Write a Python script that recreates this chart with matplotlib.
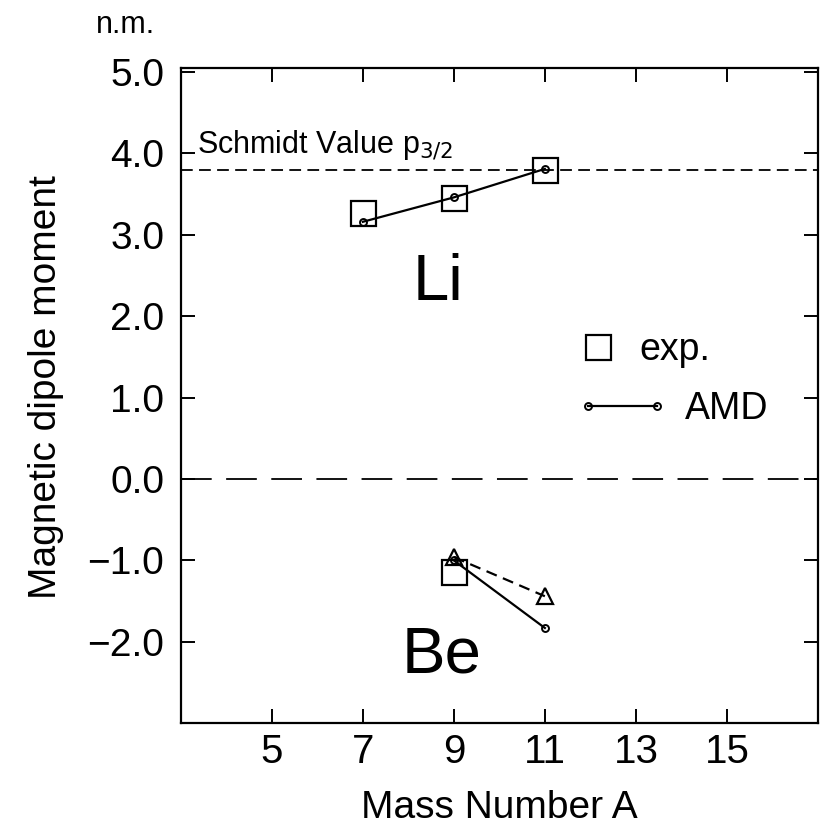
import matplotlib
matplotlib.use('Agg')
import matplotlib.pyplot as plt
from matplotlib.lines import Line2D
from matplotlib.legend_handler import HandlerLine2D

plt.rcParams['font.family'] = ['Liberation Sans', 'DejaVu Sans']

# データ
li_A = [7, 9, 11]
li_exp = [3.27, 3.45, 3.80]
li_amd = [3.16, 3.46, 3.81]

be_exp_A = [9]
be_exp = [-1.14]
be_A = [9, 11]
be_amd = [-1.0, -1.83]
be_amd2 = [-0.96, -1.44]

schmidt = 3.80

xticks = [5, 7, 9, 11, 13, 15]
yticks = [-2.0, -1.0, 0.0, 1.0, 2.0, 3.0, 4.0, 5.0]

fig = plt.figure(figsize=(8.22, 8.39), dpi=100)
ax = fig.add_axes([0.220, 0.138, 0.775, 0.781])
ax.set_xlim(3, 17)
ax.set_ylim(-3.0, 5.05)

# 基準線
ax.axhline(schmidt, color='k', ls=(0, (6.5, 3.5)), lw=1.3)
ax.axhline(0.0, color='k', ls=(0, (17, 8)), lw=1.3)

# Li
ax.plot(li_A, li_exp, 's', ms=18, mfc='none', mec='k', mew=1.6)
ax.plot(li_A, li_amd, 'o-', color='k', ms=5, mfc='none', mew=1.4, lw=1.6)

# Be
ax.plot(be_exp_A, be_exp, 's', ms=18, mfc='none', mec='k', mew=1.6)
ax.plot(be_A, be_amd, 'o-', color='k', ms=5, mfc='none', mew=1.4, lw=1.6)
ax.plot(be_A, be_amd2, '^--', color='k', ms=11, mfc='none', mew=1.6, lw=1.6,
        dashes=(5, 3))

# テキスト
ax.text(3.35, 4.0, r'Schmidt Value p$_{3/2}$', fontsize=22, va='baseline')
ax.text(8.1, 2.2, 'Li', fontsize=47, ha='left', va='baseline')
ax.text(7.85, -2.38, 'Be', fontsize=47, ha='left', va='baseline')

# 凡例 (exp. と AMD は別々に配置)
h_exp = Line2D([], [], marker='s', ls='none', ms=18, mfc='none', mec='k', mew=1.6)
h_amd = Line2D([], [], marker='o', ls='-', color='k', ms=5, mfc='none', mew=1.4, lw=1.6)
leg1 = ax.legend([h_exp], ['exp.'], frameon=False, fontsize=27,
                 handlelength=1.0, numpoints=1, handletextpad=0.6,
                 borderpad=0, borderaxespad=0,
                 loc='center left', bbox_to_anchor=(0.625, 0.57))
ax.add_artist(leg1)
ax.legend([h_amd], ['AMD'], frameon=False, fontsize=27,
          handlelength=1.84, handletextpad=0.75,
          borderpad=0, borderaxespad=0,
          handler_map={h_amd: HandlerLine2D(numpoints=2, marker_pad=0)},
          loc='center left', bbox_to_anchor=(0.639, 0.48))

# 軸の設定
ax.set_xticks(xticks)
ax.set_yticks(yticks)
ax.set_yticklabels(['%.1f' % v if v >= 0 else '\u2212%.1f' % -v for v in yticks])
ax.tick_params(direction='in', length=10, width=1.4, top=True, right=True)
ax.tick_params(axis='y', labelsize=28, pad=12)
ax.tick_params(axis='x', labelsize=29, pad=7)
for s in ax.spines.values():
    s.set_linewidth(1.6)

ax.set_ylabel('Magnetic dipole moment', fontsize=28)
ax.set_xlabel('Mass Number A', fontsize=28)
ax.yaxis.set_label_coords(-0.184, 0.513)
ax.xaxis.set_label_coords(0.5, -0.102)
fig.text(0.189, 0.961, 'n.m.', fontsize=22, ha='right', va='baseline')

fig.savefig('out.png', dpi=100)
